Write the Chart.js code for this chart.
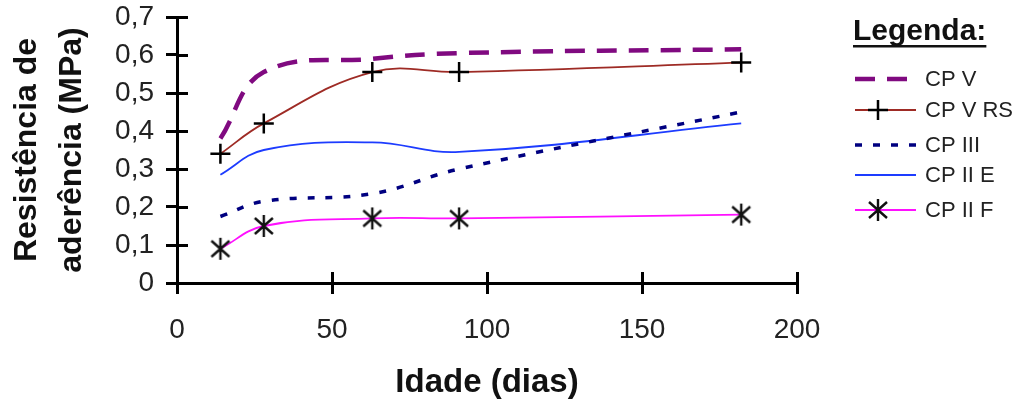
<!DOCTYPE html>
<html>
<head>
<meta charset="utf-8">
<script src="https://cdn.jsdelivr.net/npm/chart.js@4/dist/chart.umd.min.js"></script>
<style>
  html, body { margin: 0; padding: 0; background: #ffffff; }
  #wrap { width: 1024px; height: 407px; }
</style>
</head>
<body>
<div id="wrap"><canvas id="adhesionChart" width="1024" height="407"></canvas></div>
<script>
// ages (days) where each cement was tested
const ages = [14, 28, 63, 91, 182];

// bond strength, MPa
const cpV   = [0.38, 0.555, 0.59, 0.605, 0.615];
const cpVRS = [0.34, 0.42, 0.555, 0.555, 0.58];
const cpIII = [0.175, 0.215, 0.235, 0.30, 0.45];
const cpIIE = [0.285, 0.35, 0.37, 0.345, 0.42];
const cpIIF = [0.09, 0.15, 0.17, 0.17, 0.18];

const seriesNames = ['CP V', 'CP V RS', 'CP III', 'CP II E', 'CP II F'];
const yTickLabels = ['0', '0,1', '0,2', '0,3', '0,4', '0,5', '0,6', '0,7'];
const xTickLabels = ['0', '50', '100', '150', '200'];

const FONT = '"Liberation Sans", Arial, sans-serif';

function pairs(ys) {
   return ages.map((a, i) => ({ x: a, y: ys[i] }));
}

// asterisk marker like the old spreadsheet one
const asterisk = document.createElement('canvas');
asterisk.width = 24;
asterisk.height = 24;
(function () {
   const c = asterisk.getContext('2d');
   c.strokeStyle = '#111';
   c.lineWidth = 2.4;
   c.beginPath();
   c.moveTo(12, 1);  c.lineTo(12, 23);
   c.moveTo(3, 4);   c.lineTo(21, 20);
   c.moveTo(21, 4);  c.lineTo(3, 20);
   c.stroke();
})();

// inner half of the "cross" tick marks
const crossTicks = {
   id: 'crossTicks',
   afterDraw(chart) {
      const ctx = chart.ctx;
      const xs = chart.scales.x, ys = chart.scales.y;
      const area = chart.chartArea;
      ctx.save();
      ctx.strokeStyle = '#000';
      ctx.lineWidth = 3;
      ctx.beginPath();
      ys.ticks.forEach(t => {
         const p = Math.round(ys.getPixelForValue(t.value)) + 0.5;
         ctx.moveTo(area.left, p);
         ctx.lineTo(area.left + 11, p);
      });
      xs.ticks.forEach(t => {
         const p = Math.round(xs.getPixelForValue(t.value)) + 0.5;
         ctx.moveTo(p, area.bottom);
         ctx.lineTo(p, area.bottom - 11);
      });
      ctx.stroke();
      ctx.restore();
   }
};

// legend box on the right
const sideLegend = {
   id: 'sideLegend',
   afterDraw(chart) {
      const ctx = chart.ctx;
      ctx.save();
      ctx.fillStyle = '#111';
      ctx.font = 'bold 30px ' + FONT;
      ctx.textBaseline = 'alphabetic';
      ctx.fillText('Legenda:', 853, 40);
      const w = ctx.measureText('Legenda:').width;
      ctx.fillRect(853, 45, w, 2.5);

      const rows = [79, 110, 145, 175, 210];
      chart.data.datasets.forEach((ds, i) => {
         const y = rows[i];
         ctx.save();
         ctx.strokeStyle = ds.borderColor;
         ctx.lineWidth = ds.borderWidth;
         ctx.setLineDash(ds.borderDash || []);
         ctx.beginPath();
         ctx.moveTo(855, y);
         ctx.lineTo(916, y);
         ctx.stroke();
         ctx.restore();
         if (ds.pointRadius > 0) {
            ctx.save();
            ctx.strokeStyle = ds.pointBorderColor;
            ctx.lineWidth = ds.pointBorderWidth;
            Chart.helpers.drawPoint(ctx, {
               pointStyle: ds.pointStyle,
               radius: ds.pointRadius,
               rotation: 0,
               borderWidth: ds.pointBorderWidth
            }, 878, y);
            ctx.restore();
         }
         ctx.fillStyle = '#222';
         ctx.font = '22px ' + FONT;
         ctx.textBaseline = 'middle';
         ctx.fillText(ds.label, 925, y + 1);
      });
      ctx.restore();
   }
};

const base = {
   fill: false,
   tension: 0.4,
   pointRadius: 0,
   pointHoverRadius: 0
};

new Chart(document.getElementById('adhesionChart'), {
   type: 'line',
   data: {
      datasets: [
         Object.assign({}, base, {
            label: seriesNames[0],
            data: pairs(cpV),
            borderColor: '#800a80',
            borderWidth: 4.5,
            borderDash: [20, 12]
         }),
         Object.assign({}, base, {
            label: seriesNames[1],
            data: pairs(cpVRS),
            borderColor: '#9e2b25',
            borderWidth: 1.8,
            pointStyle: 'cross',
            pointRadius: 10,
            pointBorderColor: '#000',
            pointBorderWidth: 2.5
         }),
         Object.assign({}, base, {
            label: seriesNames[2],
            data: pairs(cpIII),
            borderColor: '#000080',
            borderWidth: 3.5,
            borderDash: [7, 11]
         }),
         Object.assign({}, base, {
            label: seriesNames[3],
            data: pairs(cpIIE),
            borderColor: '#1d3cff',
            borderWidth: 1.8
         }),
         Object.assign({}, base, {
            label: seriesNames[4],
            data: pairs(cpIIF),
            borderColor: '#ff10ff',
            borderWidth: 1.8,
            pointStyle: asterisk,
            pointRadius: 11,
            pointBorderColor: '#111',
            pointBorderWidth: 2.4
         })
      ]
   },
   options: {
      responsive: false,
      animation: false,
      events: [],
      layout: {
         padding: { top: 17, right: 227, left: 0, bottom: 0 }
      },
      plugins: {
         legend: { display: false },
         tooltip: { enabled: false }
      },
      scales: {
         x: {
            type: 'linear',
            min: 0,
            max: 200,
            afterFit(scale) {
               scale.height = 124;
               scale.paddingLeft = 0;
               scale.paddingRight = 0;
            },
            afterBuildTicks(scale) {
               scale.ticks = xTickLabels.map(v => ({ value: Number(v) }));
            },
            ticks: {
               callback: (v, i) => xTickLabels[i],
               autoSkip: false,
               color: '#222',
               padding: 19,
               maxRotation: 0,
               font: { family: FONT, size: 28 }
            },
            grid: {
               drawOnChartArea: false,
               color: '#000',
               lineWidth: 3,
               tickLength: 11
            },
            border: { color: '#000', width: 3 },
            title: {
               display: true,
               text: 'Idade (dias)',
               color: '#111',
               padding: { top: 0, bottom: 4 },
               font: { family: FONT, size: 33, weight: 'bold', lineHeight: 1.2 }
            }
         },
         y: {
            min: 0,
            max: 0.7,
            afterFit(scale) {
               scale.width = 177;
               scale.paddingTop = 0;
               scale.paddingBottom = 0;
            },
            afterBuildTicks(scale) {
               scale.ticks = yTickLabels.map((l, i) => ({ value: i / 10 }));
            },
            ticks: {
               callback: (v, i) => yTickLabels[i],
               autoSkip: false,
               color: '#222',
               padding: 12,
               font: { family: FONT, size: 28 }
            },
            grid: {
               drawOnChartArea: false,
               color: '#000',
               lineWidth: 3,
               tickLength: 11
            },
            border: { color: '#000', width: 3 },
            title: {
               display: true,
               text: ['Resistência de', 'aderência (MPa)'],
               color: '#111',
               padding: { top: 5, bottom: 0 },
               font: { family: FONT, size: 32, weight: 'bold', lineHeight: 1.4 }
            }
         }
      }
   },
   plugins: [crossTicks, sideLegend]
});
</script>
</body>
</html>
